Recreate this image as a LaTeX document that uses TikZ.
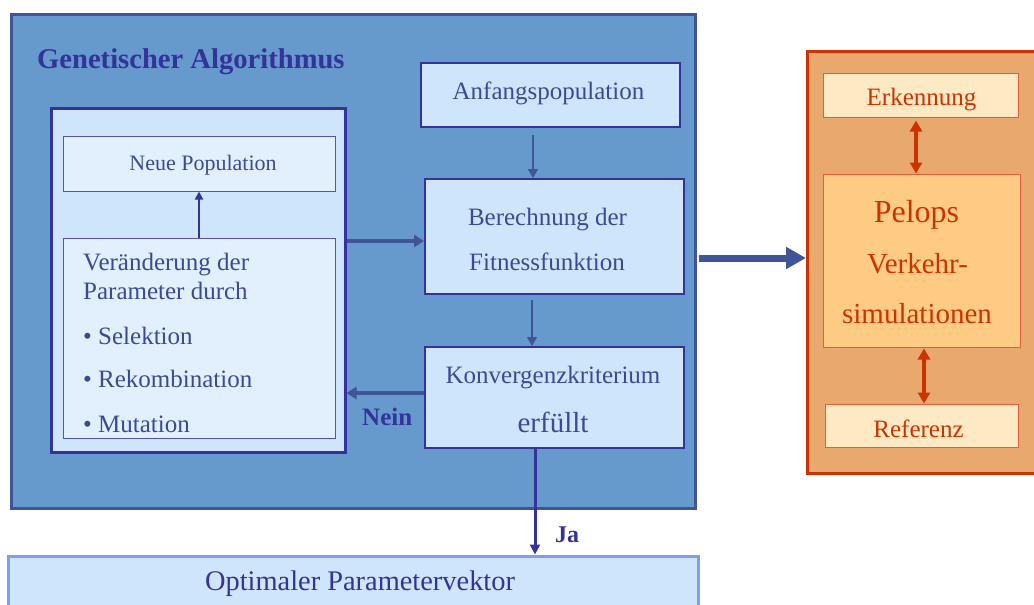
\documentclass[tikz,border=0pt]{standalone}
\usepackage{fontspec}
\setmainfont{Liberation Serif}
\usetikzlibrary{arrows.meta}
\definecolor{gaback}{HTML}{6699CC}
\definecolor{gaframe}{HTML}{3F5597}
\definecolor{navy}{HTML}{333399}
\definecolor{boxfill}{HTML}{CFE5FB}
\definecolor{palefill}{HTML}{E2EFFD}
\definecolor{boxtext}{HTML}{3B4A94}
\definecolor{thinframe}{HTML}{5555AA}
\definecolor{optframe}{HTML}{7F9FE8}
\definecolor{simback}{HTML}{E8A86E}
\definecolor{simframe}{HTML}{CC3300}
\definecolor{simpale}{HTML}{FDE9C4}
\definecolor{simcore}{HTML}{FDCB83}
\definecolor{simline}{HTML}{E0603A}
\tikzset{
  px/.style={x=1pt,y=-1pt},
  gabox/.style={draw=navy, line width=2pt, fill=boxfill, inner sep=0pt},
  palebox/.style={draw=thinframe, line width=1pt, fill=palefill, inner sep=0pt},
  simbox/.style={draw=simline, line width=1pt, inner sep=0pt},
  txt/.style={text=boxtext, inner sep=0pt, anchor=base, font=\fontsize{25}{30}\selectfont},
  txtl/.style={txt, anchor=base west},
  simtxt/.style={text=simframe, inner sep=0pt, anchor=base, font=\fontsize{25}{30}\selectfont},
  thinarrow/.style={draw=gaframe, line width=1.2pt, -{Triangle[length=9pt,width=10pt]}},
  midarrow/.style={draw=gaframe, line width=3.5pt, -{Triangle[length=10pt,width=12pt]}},
  simarrow/.style={draw=simframe, line width=3.5pt, {Triangle[length=11pt,width=12pt]}-{Triangle[length=11pt,width=12pt]}},
  lbl/.style={text=navy, font=\fontsize{25}{30}\selectfont\bfseries, inner sep=0pt, anchor=base west}
}
\begin{document}
\begin{tikzpicture}[px]
\useasboundingbox (0,0) rectangle (1034,605);
\begin{scope}
\clip (0,0) rectangle (1034,605);

% genetic algorithm frame
\node[draw=gaframe, line width=3pt, fill=gaback, minimum width=684pt, minimum height=494pt, inner sep=0pt] (ga) at (353,261) {};
\node[text=navy, font=\fontsize{28.6}{34}\selectfont\bfseries, anchor=base west, inner sep=0pt] (title) at (37,68) {Genetischer Algorithmus};

% variation block
\node[draw=navy, line width=3pt, fill=boxfill, minimum width=294pt, minimum height=344pt, inner sep=0pt] (var) at (198,280) {};
\node[palebox, minimum width=272pt, minimum height=55pt] (neu) at (199,163.5) {};
\node[txt, font=\fontsize{22}{26}\selectfont] (neutext) at (203,170) {Neue Population};
\node[palebox, minimum width=272pt, minimum height=200pt] (chg) at (199,338) {};
\node[txtl] (chg1) at (83,270) {Veränderung der};
\node[txtl] (chg2) at (83,299) {Parameter durch};
\node[txtl] (chg3) at (83,344) {• Selektion};
\node[txtl] (chg4) at (83,387) {• Rekombination};
\node[txtl] (chg5) at (83,432) {• Mutation};

% right column
\node[gabox, minimum width=259pt, minimum height=64pt] (anf) at (550.5,95) {};
\node[txt] (anftext) at (548.5,99) {Anfangspopulation};
\node[gabox, minimum width=259pt, minimum height=115pt] (fit) at (554.5,236.5) {};
\node[txt] (fit1) at (547.5,225) {Berechnung der};
\node[txt] (fit2) at (547,270) {Fitnessfunktion};
\node[gabox, minimum width=259pt, minimum height=101pt] (konv) at (554.5,397.5) {};
\node[txt] (konv1) at (553,383) {Konvergenzkriterium};
\node[txt, font=\fontsize{29}{34}\selectfont] (konv2) at (553,432) {erfüllt};

% flow connectors
\coordinate (a1) at (533,135);
\draw[thinarrow] (a1) -- (a1 |- fit.north);
\coordinate (a2) at (532,300);
\draw[thinarrow] (a2) -- (a2 |- konv.north);
\draw[midarrow] (var.east |- 0,241) -- (fit.west |- 0,241);
\draw[midarrow] (konv.west |- 0,393) -- (var.east |- 0,393);
\draw[draw=navy, line width=2pt, -{Triangle[length=8pt,width=8pt]}] (neu.south |- chg.north) -- (neu.south);
\node[lbl] (nein) at (362,425) {Nein};

% result
\node[draw=optframe, line width=3pt, fill=boxfill, minimum width=690pt, minimum height=70pt, inner sep=0pt] (opt) at (353,591) {};
\node[text=navy, inner sep=0pt, font=\fontsize{28.4}{32}\selectfont, anchor=base] (opttext) at (360,590) {Optimaler Parametervektor};
\coordinate (j1) at (535,448);
\draw[draw=navy, line width=3pt, -{Triangle[length=10pt,width=10pt]}] (j1) -- (j1 |- opt.north);
\node[lbl, font=\fontsize{24}{28}\selectfont\bfseries] (ja) at (555,542) {Ja};

% simulation block
\node[draw=simframe, line width=3pt, fill=simback, minimum width=240pt, minimum height=422pt, inner sep=0pt, anchor=north west] (sim) at (806,50) {};
\node[simbox, fill=simpale, minimum width=195pt, minimum height=44pt] (erk) at (920.5,95) {};
\node[simtxt] (erktext) at (921.5,105) {Erkennung};
\node[simbox, fill=simcore, minimum width=197pt, minimum height=173pt] (pel) at (921.5,260.5) {};
\node[simtxt, font=\fontsize{32}{36}\selectfont] (pel1) at (916.5,222) {Pelops};
\node[simtxt, font=\fontsize{29}{34}\selectfont] (pel2) at (917.5,273) {Verkehr-};
\node[simtxt, font=\fontsize{29}{34}\selectfont] (pel3) at (917,323) {simulationen};
\node[simbox, fill=simpale, minimum width=193pt, minimum height=43pt] (ref) at (921.5,425.5) {};
\node[simtxt] (reftext) at (918.5,437) {Referenz};
\coordinate (s1) at (916,0);
\draw[simarrow] (s1 |- erk.south) ++(0,3) -- (s1 |- pel.north);
\coordinate (s2) at (924,0);
\draw[simarrow] (s2 |- pel.south) ++(0,1) -- (s2 |- ref.north);

% hand-off to the simulation
\draw[draw=gaframe, line width=7pt, -{Triangle[length=20pt,width=21pt]}] (ga.east |- 0,258) ++(2,0) -- (sim.west |- 0,258);
\end{scope}
\end{tikzpicture}
\end{document}
